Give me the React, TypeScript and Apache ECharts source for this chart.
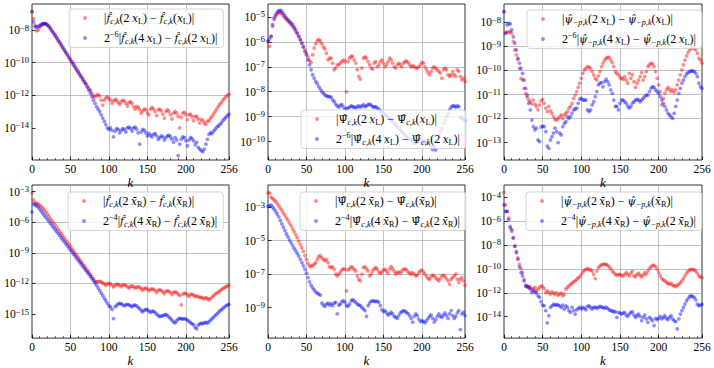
import React, { useEffect, useRef } from 'react';
import * as echarts from 'echarts';

const kValues = [0, 2, 4, 6, 8, 10, 12, 14, 16, 18, 20, 22, 24, 26, 28, 30, 32, 34, 36, 38, 40, 42, 44, 46, 48, 50, 52, 54, 56, 58, 60, 62, 64, 66, 68, 70, 72, 74, 76, 78, 80, 82, 84, 86, 88, 90, 92, 94, 96, 98, 100, 102, 104, 106, 108, 110, 112, 114, 116, 118, 120, 122, 124, 126, 128, 130, 132, 134, 136, 138, 140, 142, 144, 146, 148, 150, 152, 154, 156, 158, 160, 162, 164, 166, 168, 170, 172, 174, 176, 178, 180, 182, 184, 186, 188, 190, 192, 194, 196, 198, 200, 202, 204, 206, 208, 210, 212, 214, 216, 218, 220, 222, 224, 226, 228, 230, 232, 234, 236, 238, 240, 242, 244, 246, 248, 250, 252, 254, 256];

const p1Red = [1.3e-7, 5e-8, 2e-8, 9e-9, 1e-8, 1.4e-8, 1.9e-8, 2.2e-8, 2.4e-8, 2.3e-8,
  2e-8, 1.6e-8, 1.2e-8, 8.5e-9, 6.3e-9, 4.5e-9, 3.2e-9, 2.2e-9, 1.6e-9, 1.1e-9,
  8e-10, 5.6e-10, 4e-10, 2.8e-10, 2e-10, 1.4e-10, 1e-10, 7e-11, 5e-11, 3.5e-11,
  2.5e-11, 1.8e-11, 1.3e-11, 9e-12, 6.3e-12, 5e-12, 3.5e-12, 2.5e-12, 2e-12, 1.3e-12,
  9e-13, 8e-13, 1e-12, 1.1e-12, 9e-13, 5e-13, 2.5e-13, 5e-13, 7e-13, 8e-13,
  6.3e-13, 5e-13, 3.2e-13, 4.5e-13, 5.6e-13, 5e-13, 3.5e-13, 2.8e-13, 4e-13, 5e-13,
  4.5e-13, 3.2e-13, 2.2e-13, 3.5e-13, 4e-13, 3.2e-13, 2e-13, 1.4e-13, 2e-13, 1.8e-13,
  1.3e-13, 8e-14, 1.1e-13, 1.4e-13, 1.3e-13, 8e-14, 6.3e-14, 1.4e-13, 1.8e-13, 1.4e-13,
  1e-13, 5.6e-14, 1.3e-13, 1.4e-13, 1.1e-13, 7e-14, 4e-14, 1e-13, 1.3e-13, 1e-13,
  6.3e-14, 3.5e-14, 8e-14, 1e-13, 8e-14, 5e-14, 1e-14, 4.5e-14, 8e-14, 9e-14,
  6.3e-14, 3.2e-14, 6.3e-14, 7e-14, 5e-14, 2.8e-14, 5e-14, 5e-14, 3.5e-14, 2e-14,
  3.2e-14, 2.8e-14, 2e-14, 1.6e-14, 2.5e-14, 2.8e-14, 4e-14, 5e-14, 7e-14, 1e-13,
  1.4e-13, 2e-13, 2.8e-13, 3.5e-13, 5e-13, 6.3e-13, 8e-13, 1e-12, 1.1e-12];

const p1Blue = [1.4e-7, 3.2e-8, 1.6e-8, 1.5e-8, 1.7e-8, 1.9e-8, 2.2e-8, 2.5e-8, 2.6e-8, 2.5e-8,
  2.1e-8, 1.7e-8, 1.3e-8, 9.3e-9, 6.8e-9, 5e-9, 3.5e-9, 2.5e-9, 1.8e-9, 1.3e-9,
  9e-10, 6.3e-10, 4.5e-10, 3.2e-10, 2.2e-10, 1.6e-10, 1.1e-10, 8e-11, 5.6e-11, 4e-11,
  2.8e-11, 2e-11, 1.4e-11, 1e-11, 7e-12, 5e-12, 3.2e-12, 2e-12, 1.3e-12, 8e-13,
  5e-13, 3.2e-13, 2e-13, 1.4e-13, 1e-13, 6.3e-14, 4e-14, 2.5e-14, 1.6e-14, 1e-14,
  8e-15, 1e-14, 7e-15, 2.8e-15, 6.3e-15, 9e-15, 8e-15, 5e-15, 7e-15, 9e-15,
  8e-15, 5.6e-15, 1e-14, 1.1e-14, 9e-15, 6.3e-15, 1e-14, 1.1e-14, 8e-15, 5e-15,
  1e-15, 5.6e-15, 8e-15, 7e-15, 5e-15, 3.2e-15, 4.5e-15, 3.5e-15, 2.8e-15, 4e-15,
  4.5e-15, 3.2e-15, 2e-15, 2.5e-15, 3.2e-15, 2.8e-15, 1.8e-15, 2.5e-15, 3.2e-15, 3.5e-15,
  2.8e-15, 2e-15, 1.3e-15, 2.5e-15, 1.8e-15, 2e-16, 1e-15, 2e-15, 2.8e-15, 2.5e-15,
  1.6e-15, 8e-16, 1.8e-15, 2.5e-15, 2.2e-15, 1.6e-15, 9e-16, 1.3e-15, 6.3e-16, 5e-16,
  4e-16, 3.5e-16, 5e-16, 1e-15, 2e-15, 4e-15, 5e-15, 4.5e-15, 6.3e-15, 8e-15,
  1.1e-14, 1.3e-14, 1.6e-14, 2e-14, 2.8e-14, 3.5e-14, 4.5e-14, 5.6e-14, 7e-14];

const p2Red = [1.05e-6, 6.6e-7, 1.66e-6, 4.2e-6, 7.8e-6, 1.07e-5, 1.35e-5, 1.55e-5, 1.45e-5, 1.35e-5,
  1.07e-5, 9.1e-6, 7.8e-6, 6.7e-6, 5.8e-6, 4.9e-6, 4.2e-6, 3.3e-6, 2.6e-6, 2.1e-6,
  1.66e-6, 1.23e-6, 8.9e-7, 6.6e-7, 4.8e-7, 3.5e-7, 2.5e-7, 1.8e-7, 1.5e-7, 3e-7,
  5.6e-7, 8.4e-7, 1.1e-6, 1.23e-6, 1.1e-6, 8.4e-7, 6.2e-7, 5.2e-7, 3.5e-7, 1.9e-7,
  2.2e-7, 2.2e-7, 1.4e-7, 7.6e-8, 8.9e-8, 1.2e-7, 1.2e-7, 1.4e-7, 1.6e-7, 1.9e-7,
  1.6e-7, 1e-8, 1.6e-7, 2.2e-7, 2.6e-7, 2.6e-7, 1.9e-7, 1.4e-7, 7.6e-8, 4.1e-8,
  3.2e-8, 8.9e-8, 2.2e-7, 2.5e-7, 2.2e-7, 1.6e-7, 1.2e-7, 8.9e-8, 8.1e-8, 1.4e-7,
  1.6e-7, 1e-7, 1.2e-7, 1.6e-7, 1.9e-7, 1.4e-7, 1e-7, 1.2e-7, 1.6e-7, 2.2e-7,
  1.9e-7, 1.4e-7, 1e-7, 8.9e-8, 1.2e-7, 1.4e-7, 1.2e-7, 1e-7, 1.4e-7, 1.6e-7,
  1.7e-7, 1.5e-7, 1.2e-7, 1e-7, 1.1e-7, 1e-7, 9.3e-8, 8.9e-8, 1e-7, 1.2e-7,
  1.5e-7, 1.4e-7, 1e-7, 7.6e-8, 5.9e-8, 4.8e-8, 6.5e-8, 8.9e-8, 1e-7, 8.9e-8,
  7.6e-8, 6.5e-8, 5.6e-8, 3.5e-8, 7.6e-8, 8.9e-8, 7.6e-8, 4.8e-8, 4.1e-8, 4.8e-8,
  6.5e-8, 4.8e-8, 4.1e-8, 7.6e-8, 6.5e-8, 4.1e-8, 3e-8, 3.5e-8, 2.6e-8];

const p2Blue = [1.05e-6, 1.3e-6, 1.66e-6, 4.9e-6, 9.1e-6, 1.23e-5, 1.55e-5, 1.8e-5, 1.85e-5, 1.7e-5,
  1.35e-5, 1.13e-5, 9.1e-6, 7.8e-6, 6.7e-6, 5.8e-6, 4.9e-6, 3.9e-6, 3.1e-6, 2.3e-6,
  1.66e-6, 1.23e-6, 8.9e-7, 6.2e-7, 4.1e-7, 3e-7, 1.9e-7, 1.2e-7, 7.6e-8, 4.8e-8,
  3.5e-8, 2.6e-8, 2.1e-8, 1.6e-8, 1.26e-8, 1e-8, 8.7e-9, 7.4e-9, 6.8e-9, 6.4e-9,
  6.4e-9, 6e-9, 4.7e-9, 4e-9, 3.2e-9, 2.7e-9, 2.4e-9, 2.9e-9, 3e-9, 2.4e-9,
  1.9e-9, 2.1e-9, 2.2e-9, 2.4e-9, 2.7e-9, 2.5e-9, 2.4e-9, 2.2e-9, 2.5e-9, 2.7e-9,
  2.4e-9, 2.7e-9, 3e-9, 2.5e-9, 2.7e-9, 3e-9, 3.2e-9, 2.9e-9, 2.5e-9, 2.4e-9,
  2.5e-9, 2.2e-9, 2e-9, 1.7e-9, 1.55e-9, 1.35e-9, 1.17e-9, 1.07e-9, 9.3e-10, 8.3e-10,
  7.4e-10, 6.3e-10, 5.4e-10, 4.6e-10, 4e-10, 3.4e-10, 2.9e-10, 2.5e-10, 2.1e-10, 1.8e-10,
  1.55e-10, 1.38e-10, 1.23e-10, 1.15e-10, 1.02e-10, 8.9e-11, 8.5e-11, 9.8e-11, 1.15e-10, 1.35e-10,
  1.15e-10, 8.5e-11, 9.8e-11, 8.9e-11, 8.5e-11, 8e-11, 6.2e-11, 4.8e-11, 6.2e-11, 4.6e-11,
  1.15e-10, 1.8e-10, 2.5e-10, 3.4e-10, 5.4e-10, 7.4e-10, 1e-9, 1.35e-9, 1.9e-9, 2.4e-9,
  2.7e-9, 2.7e-9, 2.4e-9, 2.7e-9, 2.5e-9, 9.3e-10, 8.7e-10, 7.4e-10, 6.9e-10];

const p3Red = [2.8e-8, 3.7e-9, 4e-9, 3.8e-9, 4.1e-9, 3.5e-9, 1.6e-9, 7.1e-10, 4.4e-10, 2.9e-10,
  1.23e-10, 4.7e-11, 4e-11, 1.8e-11, 1.12e-11, 7.6e-12, 5.9e-12, 5e-12, 4.1e-12, 5.9e-12,
  3.9e-12, 3.2e-12, 2.3e-12, 3.7e-12, 5.4e-12, 6.3e-12, 4.3e-12, 2.7e-12, 1.95e-12, 3.2e-12,
  2.1e-12, 1.66e-12, 1.2e-12, 9.3e-13, 8.7e-13, 1e-12, 1.2e-12, 1.41e-12, 1.02e-12, 1.41e-12,
  1.66e-12, 1.95e-12, 2.7e-12, 3.2e-12, 4.3e-12, 6.9e-12, 9.5e-12, 1.32e-11, 2e-11, 2.95e-11,
  4.7e-11, 7.6e-11, 1.05e-10, 1.23e-10, 1.45e-10, 1.35e-10, 1.23e-10, 8.9e-11, 6.5e-11, 4.7e-11,
  4e-11, 5.9e-11, 8.9e-11, 1.45e-10, 2e-10, 2.7e-10, 3.2e-10, 3.5e-10, 3.5e-10, 2.7e-10,
  2.1e-10, 1.45e-10, 8.9e-11, 7.6e-11, 6.5e-11, 5.1e-11, 4.7e-11, 4.3e-11, 5.5e-11, 4e-11,
  2.95e-11, 7.6e-11, 4.7e-11, 6.5e-11, 3.4e-11, 2e-11, 2.95e-11, 4e-11, 5.5e-11, 8.1e-11,
  4e-11, 5.5e-11, 8.9e-11, 1.45e-10, 1.7e-10, 2e-10, 1.86e-10, 1.45e-10, 8.9e-11, 4.7e-11,
  2.5e-11, 1.32e-11, 3.7e-12, 6.9e-12, 1.12e-11, 1.55e-11, 2e-11, 1.66e-11, 1.32e-11, 1.55e-11,
  1.2e-11, 1.55e-11, 2.5e-11, 4e-11, 6.5e-11, 1.05e-10, 1.7e-10, 2.7e-10, 4e-10, 5.5e-10,
  7.1e-10, 8.3e-10, 8.9e-10, 8.3e-10, 7.1e-10, 5.1e-10, 3.2e-10, 2.7e-10, 2e-10];

const p3Blue = [2.8e-8, 3.5e-9, 7.8e-9, 9.1e-9, 8.5e-9, 4.8e-9, 2.5e-9, 1.35e-9, 7.1e-10, 3.2e-10,
  2e-10, 1.23e-10, 7.6e-11, 4e-11, 1.8e-11, 9.5e-12, 4.3e-12, 2.3e-12, 8.7e-13, 4.6e-13,
  3.4e-13, 4e-13, 1.29e-13, 1.1e-13, 4.4e-13, 4.9e-13, 4.6e-13, 2.9e-13, 7.2e-14, 5.8e-14,
  1.29e-13, 1.78e-13, 2.5e-13, 4e-13, 2.9e-13, 1e-13, 2.5e-13, 2.1e-13, 4.6e-13, 6.3e-13,
  7.4e-13, 1.2e-12, 1.02e-12, 1.2e-12, 1.66e-12, 2.3e-12, 2.5e-12, 2.7e-12, 4.3e-12, 6.5e-12,
  6.9e-12, 5.9e-12, 5.9e-12, 5.9e-12, 2.3e-12, 1.95e-12, 2.3e-12, 3.7e-12, 5e-12, 8.1e-12,
  1.32e-11, 2.5e-11, 2.95e-11, 3.1e-11, 2.1e-11, 3.4e-11, 4.3e-11, 3.4e-11, 2.5e-11, 1.55e-11,
  1.12e-11, 5.9e-12, 3.2e-12, 3.2e-12, 2.3e-12, 4.3e-12, 5.9e-12, 5.9e-12, 5e-12, 4.3e-12,
  3.3e-12, 2.7e-12, 3.2e-12, 4.3e-12, 5e-12, 5.9e-12, 6.3e-12, 5.9e-12, 5e-12, 5.9e-12,
  6.9e-12, 8.1e-12, 9.5e-12, 9.5e-12, 1.32e-11, 1.8e-11, 2.1e-11, 2e-11, 1.55e-11, 1.32e-11,
  1.12e-11, 8.1e-12, 5.9e-12, 4.3e-12, 3.2e-12, 2.3e-12, 1.66e-12, 1.41e-12, 1.2e-12, 1.02e-12,
  1.66e-12, 3.2e-12, 5.9e-12, 1.12e-11, 1.8e-11, 2.95e-11, 4e-11, 5.5e-11, 7.1e-11, 8.1e-11,
  8.9e-11, 9.5e-11, 9.5e-11, 8.9e-11, 7.6e-11, 5.5e-11, 2.95e-11, 2.1e-11, 1.8e-11];

const p4Red = [7.9e-4, 1.55e-4, 8.5e-5, 7.2e-5, 6.3e-5, 4.7e-5, 3.5e-5, 2.4e-5, 1.6e-5, 1.05e-5,
  6.2e-6, 3.8e-6, 2.3e-6, 1.4e-6, 8.7e-7, 5.4e-7, 3.3e-7, 2e-7, 1.26e-7, 7.6e-8,
  4.7e-8, 2.9e-8, 1.8e-8, 1.1e-8, 6.8e-9, 4.2e-9, 2.5e-9, 1.55e-9, 9.5e-10, 5.9e-10,
  3.6e-10, 2.2e-10, 1.35e-10, 8.3e-11, 5.1e-11, 3.2e-11, 1.95e-11, 1.2e-11, 7.4e-12, 4.5e-12,
  2.8e-12, 1.6e-12, 1.4e-12, 1.5e-12, 1.6e-12, 1.4e-12, 1.1e-12, 9e-13, 6.3e-13, 9e-13,
  1e-12, 9e-13, 6.3e-13, 4.5e-13, 7e-13, 8.3e-13, 8e-13, 6.3e-13, 5e-13, 7e-13,
  7.6e-13, 6.3e-13, 4.8e-13, 3.5e-13, 5e-13, 5.6e-13, 4.8e-13, 3.5e-13, 4.2e-13, 4.8e-13,
  4e-13, 3e-13, 2.2e-13, 3.3e-13, 3.5e-13, 2.8e-13, 1.9e-13, 2.5e-13, 3e-13, 2.6e-13,
  2e-13, 1.26e-13, 2.1e-13, 2.4e-13, 2e-13, 1.5e-13, 1e-13, 1.66e-13, 1.9e-13, 1.66e-13,
  1.26e-13, 8e-14, 1.3e-13, 1.5e-13, 1.26e-13, 9e-14, 6.3e-14, 8e-15, 9e-14, 1.1e-13,
  1e-13, 7.6e-14, 5.2e-14, 8e-14, 9e-14, 7e-14, 5e-14, 6e-14, 5.2e-14, 4e-14,
  4.5e-14, 3.5e-14, 3.2e-14, 4e-14, 3.3e-14, 2.5e-14, 3.2e-14, 4.5e-14, 6.3e-14, 9e-14,
  1.1e-13, 1.4e-13, 1.8e-13, 2.4e-13, 3e-13, 3.8e-13, 4.5e-13, 5.6e-13, 7e-13];

const p4Blue = [9.8e-6, 6.3e-5, 5e-5, 4e-5, 3e-5, 1.9e-5, 1.2e-5, 7.6e-6, 4.8e-6, 3e-6,
  1.9e-6, 1.2e-6, 7.6e-7, 4.8e-7, 3e-7, 1.9e-7, 1.2e-7, 7.6e-8, 4.8e-8, 3e-8,
  1.9e-8, 1.2e-8, 7.6e-9, 4.8e-9, 3e-9, 1.9e-9, 1.2e-9, 7.6e-10, 4.8e-10, 3e-10,
  1.9e-10, 1.2e-10, 7.6e-11, 4.8e-11, 3e-11, 1.9e-11, 1.2e-11, 7.6e-12, 4.8e-12, 3e-12,
  1.9e-12, 1.1e-12, 6.3e-13, 3.5e-13, 2e-13, 1.1e-13, 6.3e-14, 3.5e-14, 2e-14, 1.1e-14,
  6.3e-15, 5e-15, 2.8e-15, 3.5e-16, 5e-15, 7e-15, 1e-14, 1.1e-14, 1e-14, 8e-15,
  6.3e-15, 8e-15, 9e-15, 8e-15, 6.3e-15, 5.2e-15, 7e-15, 7.6e-15, 6.3e-15, 4.5e-15,
  3.2e-15, 2.2e-15, 1.6e-15, 2.4e-15, 2.8e-15, 2.5e-15, 1.9e-15, 1.4e-15, 1.9e-15, 1.8e-15,
  1.4e-15, 1e-15, 7e-16, 5.6e-16, 6.3e-16, 7e-16, 8e-16, 9e-16, 7e-16, 5e-16,
  3.5e-16, 2.5e-16, 1.6e-16, 1.4e-16, 2.2e-16, 3.2e-16, 3.8e-16, 3.5e-16, 3.2e-16, 3.5e-16,
  3.2e-16, 2.5e-16, 1.9e-16, 1.4e-16, 1.1e-16, 9e-17, 5e-17, 3.5e-17, 8e-17, 1.1e-16,
  1.26e-16, 1.1e-16, 1.4e-16, 1.5e-16, 1.26e-16, 1.8e-16, 2.5e-16, 3.5e-16, 5e-16, 7e-16,
  1e-15, 1.4e-15, 2e-15, 2.6e-15, 3.5e-15, 4.8e-15, 6.3e-15, 7.6e-15, 9e-15];

const p5Red = [7.4e-3, 6.8e-3, 3.9e-3, 3.2e-3, 2.7e-3, 2.2e-3, 1.6e-3, 1.2e-3, 8.7e-4, 6.3e-4,
  4.4e-4, 3.2e-4, 2.2e-4, 1.6e-4, 1.1e-4, 7.6e-5, 5e-5, 3.5e-5, 2.3e-5, 1.5e-5,
  9.3e-6, 5.9e-6, 3.7e-6, 2.3e-6, 1.3e-6, 7.6e-7, 4.5e-7, 3.1e-7, 2.8e-7, 3.4e-7,
  3.9e-7, 4.9e-7, 7.6e-7, 1.1e-6, 1.3e-6, 9.5e-7, 7.6e-7, 6.2e-7, 7.6e-7, 4.9e-7,
  2.8e-7, 2.5e-7, 2.7e-7, 1.95e-7, 1e-7, 8e-8, 1e-7, 1.35e-7, 1.8e-7, 2.1e-7,
  1.95e-7, 1e-8, 1.8e-7, 2.1e-7, 2.8e-7, 2.5e-7, 1.95e-7, 1.55e-7, 8e-8, 5e-8,
  4e-8, 1e-7, 2.5e-7, 2.7e-7, 2.1e-7, 1.55e-7, 8e-8, 1e-7, 1.55e-7, 2.1e-7,
  2.5e-7, 1.95e-7, 1.35e-7, 1.15e-7, 1.35e-7, 1.8e-7, 1.95e-7, 1.55e-7, 1.15e-7, 2.1e-7,
  2.8e-7, 2.1e-7, 1.5e-7, 1e-7, 1.25e-7, 1.35e-7, 1.15e-7, 1.55e-7, 1.95e-7, 2.1e-7,
  1.8e-7, 1.35e-7, 1.15e-7, 1e-7, 1.25e-7, 1e-7, 8e-8, 8.7e-8, 1.25e-7, 1.55e-7,
  1.8e-7, 1.35e-7, 1e-7, 7.2e-8, 5.5e-8, 5e-8, 7.2e-8, 8.7e-8, 8e-8, 6e-8,
  5e-8, 4e-8, 5.5e-8, 8e-8, 8.7e-8, 7.2e-8, 5.5e-8, 4e-8, 2.5e-8, 5e-8,
  6.3e-8, 8e-8, 1e-7, 5e-8, 3.2e-8, 5e-8, 6.3e-8, 4e-8, 2.2e-8];

const p5Blue = [1.1e-3, 1.2e-3, 1.3e-3, 1e-3, 7.6e-4, 5.5e-4, 3.9e-4, 2.6e-4, 1.6e-4, 1e-4,
  6.3e-5, 4e-5, 2.5e-5, 1.66e-5, 1.07e-5, 7.4e-6, 5.1e-6, 3.5e-6, 2.5e-6, 1.74e-6,
  1.2e-6, 7.6e-7, 4.9e-7, 3.1e-7, 1.95e-7, 1.15e-7, 6.3e-8, 3.5e-8, 2.2e-8, 1.55e-8,
  1.17e-8, 8.9e-9, 7.4e-9, 6.5e-9, 5.6e-9, 1.9e-9, 1.45e-9, 1.2e-9, 1.66e-9, 1.9e-9,
  1.45e-9, 1.74e-9, 1.32e-9, 1.9e-9, 2.1e-9, 4.3e-10, 1.45e-9, 1.66e-9, 2.3e-9, 2.6e-9,
  2.1e-9, 1.32e-9, 1.2e-9, 1.66e-9, 2.6e-9, 3e-9, 2.6e-9, 2.1e-9, 1.66e-9, 1.45e-9,
  1.32e-9, 1.05e-9, 8.5e-10, 6.8e-10, 3.1e-10, 1.32e-9, 1.9e-9, 2.5e-9, 2.6e-9, 2.5e-9,
  2.3e-9, 2.5e-9, 2.1e-9, 1.32e-9, 7.8e-10, 5.9e-10, 6.8e-10, 4.9e-10, 3.7e-10, 4.3e-10,
  5.4e-10, 4.3e-10, 3.1e-10, 2.7e-10, 2.3e-10, 3.4e-10, 4.9e-10, 5.9e-10, 6.8e-10, 6.2e-10,
  5.4e-10, 4.5e-10, 3.4e-10, 2.3e-10, 1.38e-10, 3.1e-10, 4.3e-10, 3.4e-10, 2.1e-10, 1.5e-10,
  1.7e-10, 1.5e-10, 1.26e-10, 1.7e-10, 2.3e-10, 3.1e-10, 3.7e-10, 2.3e-10, 1.38e-10, 1.95e-10,
  3.1e-10, 4.3e-10, 3.1e-10, 2.7e-10, 3.7e-10, 4.9e-10, 3.4e-10, 2.3e-10, 4.3e-10, 6.8e-10,
  3.4e-10, 2.3e-10, 3.1e-10, 4.9e-10, 6.8e-10, 5e-11, 4.3e-10, 5.4e-10, 3.4e-10];

const p6Red = [2.5e-4, 2.3e-5, 6.5e-6, 1.8e-6, 2.6e-7, 1.4e-7, 3.9e-8, 7.9e-9, 3e-9, 8.5e-10,
  2.4e-10, 1.05e-10, 4.8e-11, 1.35e-11, 3.3e-12, 3.8e-12, 2.8e-12, 3.3e-12, 2e-12, 2.2e-12,
  2.8e-12, 1.45e-12, 2e-12, 2.8e-12, 3.8e-12, 3.3e-12, 2.2e-12, 1.05e-12, 1.45e-12, 1.05e-12,
  7.6e-13, 1.2e-12, 9.3e-13, 7.6e-13, 1.05e-12, 6.3e-13, 7.6e-13, 9.3e-13, 5.6e-13, 7.6e-13,
  2e-12, 2.8e-12, 3.8e-12, 5.1e-12, 6.3e-12, 8.1e-12, 9.8e-12, 1.35e-11, 1.74e-11, 2.2e-11,
  3.5e-11, 5.5e-11, 8.1e-11, 9.1e-11, 1.05e-10, 9.1e-11, 8.1e-11, 6.6e-11, 3.5e-11, 1.55e-11,
  6.6e-11, 1.26e-10, 1.74e-10, 2.2e-10, 2.4e-10, 2.5e-10, 2.4e-10, 1.95e-10, 1.5e-10, 1.05e-10,
  6.6e-11, 4.8e-11, 3.5e-11, 2.9e-11, 3.3e-11, 3.5e-11, 2.9e-11, 2.6e-11, 3.5e-11, 4.8e-11,
  3.5e-11, 2.6e-11, 4.3e-11, 6.3e-11, 2.6e-11, 2.2e-11, 3.5e-11, 4.3e-11, 2.9e-11, 2.2e-11,
  3.3e-11, 4.8e-11, 3.5e-11, 6.6e-11, 1.05e-10, 1.5e-10, 1.95e-10, 1.95e-10, 1.5e-10, 9.1e-11,
  4.8e-11, 2.6e-11, 1.55e-11, 1.17e-11, 9.8e-12, 7.1e-12, 6.3e-12, 5.1e-12, 6.3e-12, 4.3e-12,
  3.8e-12, 3.3e-12, 4.3e-12, 5.1e-12, 7.1e-12, 9.8e-12, 1.55e-11, 2.6e-11, 4.3e-11, 6.3e-11,
  8.1e-11, 9.1e-11, 9.1e-11, 8.1e-11, 6.6e-11, 4.3e-11, 2.6e-11, 2.1e-11, 1.86e-11];

const p6Blue = [2.3e-5, 6.5e-6, 6.5e-6, 1.3e-6, 3.6e-7, 1.95e-7, 3.9e-8, 7.9e-9, 2.2e-9, 6.2e-10,
  1.5e-10, 4.8e-11, 2.6e-11, 9.8e-12, 4.3e-12, 3.3e-12, 2.8e-12, 2e-12, 1.05e-12, 1.45e-12,
  1.2e-12, 9.3e-13, 5.6e-13, 4.1e-13, 1.8e-13, 9.3e-14, 8.1e-14, 3.2e-14, 3e-15, 1.2e-14,
  6e-14, 8.1e-14, 1.1e-13, 9.3e-14, 1.05e-13, 9.3e-14, 8.1e-14, 6e-14, 9.3e-14, 4.4e-14,
  8.1e-14, 6e-14, 3.2e-14, 2.3e-14, 6e-14, 3.2e-14, 1.66e-14, 3.8e-14, 4.9e-14, 6e-14,
  4.4e-14, 6e-14, 4.9e-14, 3.8e-14, 7.2e-14, 8.1e-14, 6e-14, 4.4e-14, 6e-14, 6.3e-14,
  4.9e-14, 6e-14, 7.2e-14, 6.3e-14, 6e-14, 4.9e-14, 6.3e-14, 4.9e-14, 3.8e-14, 3.2e-14,
  3e-14, 2.6e-14, 2.6e-14, 8.7e-15, 2.3e-14, 2e-14, 1.66e-14, 2e-14, 2.3e-14, 1.38e-14,
  1.07e-14, 1.66e-14, 2.3e-14, 2.6e-14, 1.38e-14, 8.7e-15, 1.2e-14, 1.66e-14, 1.07e-14, 4.7e-15,
  8.7e-15, 1.38e-14, 6.5e-15, 3.4e-15, 8.7e-15, 6.5e-15, 4.7e-15, 1.8e-15, 7.2e-15, 5.6e-15,
  7.2e-15, 1.07e-14, 6.5e-15, 8.7e-15, 1.2e-14, 7.2e-15, 5.6e-15, 8.7e-15, 1.2e-14, 6.5e-15,
  4.7e-15, 3.8e-15, 9.5e-16, 6.5e-15, 1.66e-14, 3.2e-14, 6e-14, 1.1e-13, 2.1e-13, 3.3e-13,
  4.9e-13, 5.6e-13, 4.9e-13, 4.1e-13, 2.6e-13, 1.1e-13, 8.1e-14, 9.3e-14, 1.1e-13];

const xTickValues = [0, 50, 100, 150, 200, 256];
const yTickExp1 = [-14, -12, -10, -8];
const yTickExp2 = [-10, -9, -8, -7, -6, -5];
const yTickExp3 = [-13, -12, -11, -10, -9, -8];
const yTickExp4 = [-15, -12, -9, -6, -3];
const yTickExp5 = [-9, -7, -5, -3];
const yTickExp6 = [-14, -12, -10, -8, -6, -4];

const FF = "'Liberation Serif', 'DejaVu Serif', serif";
const F_HAT = 'f\u0302';
const PSI_HAT = '\u03a8\u0302';
const psi_HAT = '\u03c8\u0302';
const X_BAR = 'x\u0304';

function term(sym: string, italic: boolean, sub: string, n: string, xs: string, xsub: string) {
  const s = italic ? `{h|${sym}}` : `{H|${sym}}`;
  return `${s}{s|${sub}}{t|(${n ? n + '\u2009' : ''}}{h|${xs}}{r|${xsub}}{t|)}`;
}
function legendLabel(sym: string, italic: boolean, sub: string, xs: string, xsub: string, pow: number | null) {
  const pre = pow ? `{t|2}{p|\u2212${pow}}` : '';
  const a = pow ? '4' : '2';
  const b = pow ? '2' : '';
  return `{g| }${pre}{t||}${term(sym, italic, sub, a, xs, xsub)}{t| \u2212 }${term(sym, italic, sub, b, xs, xsub)}{t||}`;
}

const panels = [
  { red: p1Red, blue: p1Blue, yMin: -15.97, yMax: -6.4, yTicks: yTickExp1, grid: { left: 32, top: 4, width: 197, height: 156 }, leg: { left: 69, top: 9 }, sym: F_HAT, it: true, sub: 'c,k', xs: 'x', xsub: 'L', pow: 6, gap: 7.5 },
  { red: p2Red, blue: p2Blue, yMin: -10.74, yMax: -4.48, yTicks: yTickExp2, grid: { left: 268, top: 4, width: 197, height: 156 }, leg: { left: 301, top: 110 }, sym: PSI_HAT, it: false, sub: 'c,k', xs: 'x', xsub: 'L', pow: 6, gap: 7.5 },
  { red: p3Red, blue: p3Blue, yMin: -13.72, yMax: -7.24, yTicks: yTickExp3, grid: { left: 504, top: 4, width: 198, height: 156 }, leg: { left: 527, top: 10 }, sym: psi_HAT, it: true, sub: '\u2212p,k', xs: 'x', xsub: 'L', pow: 6, gap: 7.5 },
  { red: p4Red, blue: p4Blue, yMin: -17.36, yMax: -2.35, yTicks: yTickExp4, grid: { left: 32, top: 185, width: 197, height: 154 }, leg: { left: 68, top: 192 }, sym: F_HAT, it: true, sub: 'c,k', xs: X_BAR, xsub: 'R', pow: 4, gap: 8.5 },
  { red: p5Red, blue: p5Blue, yMin: -10.81, yMax: -1.68, yTicks: yTickExp5, grid: { left: 268, top: 185, width: 197, height: 154 }, leg: { left: 300, top: 192 }, sym: PSI_HAT, it: false, sub: 'c,k', xs: X_BAR, xsub: 'R', pow: 4, gap: 8.5 },
  { red: p6Red, blue: p6Blue, yMin: -15.79, yMax: -2.98, yTicks: yTickExp6, grid: { left: 504, top: 185, width: 198, height: 154 }, leg: { left: 526, top: 192 }, sym: psi_HAT, it: true, sub: '\u2212p,k', xs: X_BAR, xsub: 'R', pow: 4, gap: 8.5 },
];

const legendRich = {
  g: { width: 12, fontSize: 11, lineHeight: 15 },
  t: { fontFamily: FF, fontSize: 12, lineHeight: 15, color: '#000' },
  i: { fontFamily: FF, fontSize: 12, lineHeight: 15, fontStyle: 'italic', color: '#000' },
  h: { fontFamily: "'DejaVu Serif', serif", fontSize: 10.5, lineHeight: 15, fontStyle: 'italic', color: '#000' },
  H: { fontFamily: "'DejaVu Serif', serif", fontSize: 10.5, lineHeight: 15, color: '#000' },
  s: { fontFamily: FF, fontSize: 8.2, lineHeight: 9, fontStyle: 'italic', verticalAlign: 'bottom', color: '#000' },
  r: { fontFamily: FF, fontSize: 8.2, lineHeight: 9, verticalAlign: 'bottom', color: '#000' },
  p: { fontFamily: FF, fontSize: 8.2, lineHeight: 9, verticalAlign: 'top', color: '#000' },
};

const yRich = {
  b: { fontFamily: FF, fontSize: 11.5, lineHeight: 14, color: '#000' },
  e: { fontFamily: FF, fontSize: 8.5, lineHeight: 9, verticalAlign: 'top', color: '#000' },
};

function buildOption() {
  const grid: any[] = [];
  const xAxis: any[] = [];
  const yAxis: any[] = [];
  const series: any[] = [];
  const legend: any[] = [];
  const labels: Record<string, string> = {};

  panels.forEach((p, g) => {
    grid.push({ ...p.grid, show: true, borderColor: '#000', borderWidth: 0.8, backgroundColor: 'transparent', containLabel: false });
    xAxis.push({
      type: 'value', gridIndex: g, min: 0, max: 256, position: 'bottom',
      axisLine: { show: false },
      axisTick: { show: true, inside: true, length: 3.5, customValues: xTickValues, lineStyle: { color: '#000', width: 0.8 } },
      axisLabel: { customValues: xTickValues, fontFamily: FF, fontSize: 11.5, color: '#000', margin: 3 },
      splitLine: { show: true, showMinLine: false, showMaxLine: false, lineStyle: { color: '#b0b0b0', width: 0.8 } },
      name: 'k', nameLocation: 'middle', nameGap: p.gap,
      nameTextStyle: { fontFamily: FF, fontSize: 13, fontStyle: 'italic', color: '#000' },
    });
    xAxis.push({
      type: 'value', gridIndex: g, min: 0, max: 256, interval: 10, position: 'bottom',
      axisLine: { show: false },
      axisTick: { show: true, inside: true, length: 2, lineStyle: { color: '#000', width: 0.6 } },
      axisLabel: { show: false },
      splitLine: { show: false },
    });
    yAxis.push({
      type: 'value', gridIndex: g, min: p.yMin, max: p.yMax,
      axisLine: { show: false },
      axisTick: { show: true, inside: true, length: 3.5, customValues: p.yTicks, lineStyle: { color: '#000', width: 0.8 } },
      axisLabel: {
        customValues: p.yTicks, margin: 3,
        formatter: (v: number) => `{b|10}{e|\u2212${Math.abs(Math.round(v))}}`,
        rich: yRich,
      },
      splitLine: { show: true, showMinLine: false, showMaxLine: false, lineStyle: { color: '#b0b0b0', width: 0.8 } },
    });
    const rn = `p${g + 1}r`;
    const bn = `p${g + 1}b`;
    labels[rn] = legendLabel(p.sym, p.it, p.sub, p.xs, p.xsub, null);
    labels[bn] = legendLabel(p.sym, p.it, p.sub, p.xs, p.xsub, p.pow);
    series.push({
      name: rn, type: 'scatter', xAxisIndex: 2 * g, yAxisIndex: g,
      symbol: 'circle', symbolSize: 3.8,
      itemStyle: { color: 'rgba(255,0,0,0.55)' },
      data: kValues.map((k, i) => [k, Math.log10(p.red[i])]),
    });
    series.push({
      name: bn, type: 'scatter', xAxisIndex: 2 * g, yAxisIndex: g,
      symbol: 'circle', symbolSize: 3.8,
      itemStyle: { color: 'rgba(0,0,255,0.55)' },
      data: kValues.map((k, i) => [k, Math.log10(p.blue[i])]),
    });
    legend.push({
      left: p.leg.left, top: p.leg.top, orient: 'vertical',
      data: [rn, bn], icon: 'circle', itemWidth: 4, itemHeight: 4, itemGap: 5,
      padding: [3, 6, 2, 14],
      backgroundColor: 'rgba(255,255,255,0.8)', borderColor: '#cccccc', borderWidth: 0.8, borderRadius: 3,
      selectedMode: false,
      formatter: (name: string) => labels[name],
      textStyle: { fontFamily: FF, fontSize: 12, color: '#000', rich: legendRich },
    });
  });

  return { animation: false, backgroundColor: '#fff', grid, xAxis, yAxis, series, legend };
}

export default function App() {
  const ref = useRef<HTMLDivElement>(null);
  useEffect(() => {
    if (!ref.current) return;
    const chart = echarts.init(ref.current, undefined, { renderer: 'svg' });
    chart.setOption(buildOption() as any);
    return () => chart.dispose();
  }, []);
  return <div ref={ref} style={{ position: 'fixed', left: 0, top: 0, width: 714, height: 368, background: '#fff' }} />;
}
